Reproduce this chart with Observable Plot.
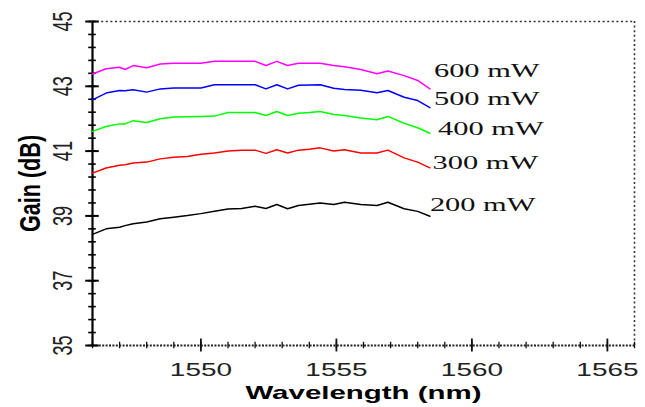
<!DOCTYPE html>
<html>
<head>
<meta charset="utf-8">
<script src="https://cdn.jsdelivr.net/npm/d3@7"></script>
<script src="https://cdn.jsdelivr.net/npm/@observablehq/plot@0.6"></script>
<style>
  html, body { margin: 0; padding: 0; background: #fff; }
  #chart svg { display: block; }
</style>
</head>
<body>
<div id="chart"></div>
<script>
// ---- data ----
const wavelength = [1546, 1546.5, 1547, 1547.2, 1547.5, 1548, 1548.5, 1549, 1549.5, 1550, 1550.5, 1551, 1551.5, 1552, 1552.4, 1552.8, 1553.2, 1553.6, 1554, 1554.4, 1554.9, 1555.3, 1555.9, 1556.5, 1556.9, 1557.5, 1558, 1558.45];
const gain600 = [43.38, 43.54, 43.59, 43.52, 43.64, 43.57, 43.69, 43.71, 43.71, 43.71, 43.77, 43.77, 43.77, 43.77, 43.64, 43.77, 43.64, 43.71, 43.71, 43.71, 43.64, 43.60, 43.52, 43.39, 43.47, 43.33, 43.18, 42.92];
const gain500 = [42.58, 42.79, 42.87, 42.86, 42.89, 42.82, 42.92, 42.95, 42.95, 42.95, 43.05, 43.05, 43.05, 43.05, 42.92, 43.05, 42.92, 43.03, 43.04, 43.05, 42.94, 42.90, 42.88, 42.80, 42.87, 42.66, 42.56, 42.34];
const gain400 = [41.61, 41.76, 41.84, 41.84, 41.94, 41.88, 42.00, 42.05, 42.06, 42.07, 42.08, 42.19, 42.19, 42.19, 42.10, 42.22, 42.10, 42.17, 42.19, 42.22, 42.13, 42.10, 42.02, 41.97, 42.07, 41.86, 41.72, 41.55];
const gain300 = [40.32, 40.48, 40.56, 40.58, 40.63, 40.66, 40.76, 40.81, 40.83, 40.90, 40.94, 41.00, 41.03, 41.03, 40.93, 41.04, 40.94, 41.03, 41.06, 41.10, 41.00, 41.04, 40.94, 40.94, 41.03, 40.79, 40.66, 40.48];
const gain200 = [38.43, 38.60, 38.65, 38.70, 38.76, 38.81, 38.91, 38.96, 39.01, 39.07, 39.14, 39.21, 39.23, 39.30, 39.23, 39.35, 39.22, 39.32, 39.36, 39.40, 39.35, 39.42, 39.35, 39.32, 39.42, 39.22, 39.14, 38.99];

const seriesNames = ["600 mW", "500 mW", "400 mW", "300 mW", "200 mW"];
const seriesColors = ["#ff00ff", "#0000ff", "#00ff00", "#ff0000", "#000000"];
const seriesValues = [gain600, gain500, gain400, gain300, gain200];
// label anchor (wavelength, gain) for each series name
const labelWavelength = [1558.6, 1558.6, 1558.75, 1558.55, 1558.45];
const labelGain = [43.49, 42.62, 41.67, 40.65, 39.33];

const xDomain = [1546, 1566];
const yDomain = [35, 45];
const xMajorTicks = [1550, 1555, 1560, 1565];
const xMinorTicks = d3.range(1546, 1567, 1);
const yMajorTicks = [35, 37, 39, 41, 43, 45];
const yMinorTicks = d3.range(35, 45.01, 0.4).map(v => +v.toFixed(1));

// ---- build table ----
const rows = [];
seriesNames.forEach((name, i) => {
  wavelength.forEach((w, j) => rows.push({series: name, w, g: seriesValues[i][j]}));
});
const labels = seriesNames.map((name, i) => ({series: name, w: labelWavelength[i], g: labelGain[i]}));

const sans = "'Liberation Sans', Arial, sans-serif";
const serif = "'Liberation Serif', 'Times New Roman', serif";

const chart = Plot.plot({
  width: 645,
  height: 407,
  marginLeft: 92,
  marginRight: 11,
  marginTop: 21,
  marginBottom: 62,
  style: {background: "#fff", overflow: "visible"},
  x: {domain: xDomain, axis: null},
  y: {domain: yDomain, axis: null},
  color: {domain: seriesNames, range: seriesColors},
  marks: [
    // frame: dotted top & right, dotted bottom axis line, solid left axis
    Plot.ruleY([45], {stroke: "#333", strokeWidth: 1.6, strokeDasharray: "2,2.6"}),
    Plot.ruleX([1566], {stroke: "#333", strokeWidth: 1.6, strokeDasharray: "2,2.6"}),
    Plot.ruleY([35], {stroke: "#222", strokeWidth: 1.8, strokeDasharray: "2,1.4"}),
    // x ticks (crossing the axis)
    Plot.ruleX(xMinorTicks, {y1: 34.9, y2: 35.1, stroke: "#111", strokeWidth: 1.3}),
    Plot.ruleX(xMajorTicks, {y1: 34.8, y2: 35.2, stroke: "#111", strokeWidth: 1.8}),
    // y axis
    Plot.ruleX([1546], {stroke: "#000", strokeWidth: 2.2}),
    Plot.ruleY(yMinorTicks, {x1: 1545.86, x2: 1546.14, stroke: "#000", strokeWidth: 1.6}),
    Plot.ruleY(yMajorTicks, {x1: 1545.75, x2: 1546.25, stroke: "#000", strokeWidth: 2}),
    // series
    Plot.line(rows, {x: "w", y: "g", z: "series", stroke: "series", strokeWidth: 1.5, curve: "linear"}),
    // series labels
    Plot.text(labels, {x: "w", y: "g", text: "series", textAnchor: "start", fontFamily: serif, fontSize: 19, fill: "#111"}),
    // x tick labels
    Plot.text(xMajorTicks, {x: d => d, y: 35, dy: 25, text: d => String(d), fontFamily: sans, fontSize: 18, fill: "#222"}),
    // y tick labels (rotated)
    Plot.text(yMajorTicks, {x: 1546, y: d => d, dx: -29, rotate: -90, text: d => String(d), fontFamily: sans, fontSize: 28, fill: "#222"}),
    // axis titles
    Plot.text(["Wavelength (nm)"], {frameAnchor: "bottom", lineAnchor: "middle", textAnchor: "middle", dy: 47, fontFamily: sans, fontWeight: "bold", fontSize: 19, fill: "#000"}),
    Plot.text(["Gain (dB)"], {frameAnchor: "left", lineAnchor: "middle", textAnchor: "middle", dx: -62, rotate: -90, fontFamily: sans, fontWeight: "bold", fontSize: 30, fill: "#000"})
  ]
});

document.getElementById("chart").appendChild(chart);

// emulate the horizontally stretched look of the reference
function factorFor(t) {
  if (/mW/.test(t)) return 1.6;          // series labels
  if (/^\d{4}$/.test(t)) return 1.55;    // x tick labels
  if (/^\d{2}$/.test(t)) return 0.645;   // rotated y tick labels
  if (/Wavelength/.test(t)) return 1.55; // x title
  if (/Gain/.test(t)) return 0.72;       // rotated y title
  return 1;
}
chart.querySelectorAll("text").forEach(el => {
  const f = factorFor(el.textContent.trim());
  if (f === 1) return;
  const len = el.getComputedTextLength();
  if (len > 0) {
    el.setAttribute("textLength", (len * f).toFixed(1));
    el.setAttribute("lengthAdjust", "spacingAndGlyphs");
  }
});
</script>
</body>
</html>
